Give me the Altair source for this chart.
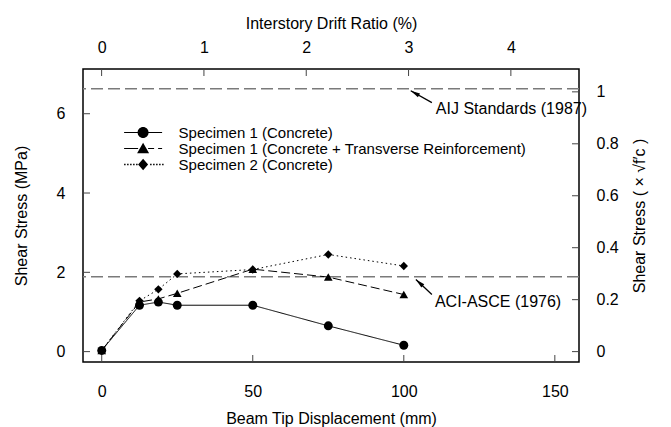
import altair as alt
import pandas as pd

# ---------------- data ----------------
disp = [0, 12.5, 18.75, 25, 50, 75, 100]
s1_concrete = [0.03, 1.17, 1.25, 1.17, 1.17, 0.65, 0.16]
s1_transverse = [0.03, 1.25, 1.33, 1.47, 2.08, 1.88, 1.44]
s2_concrete = [0.03, 1.28, 1.57, 1.96, 2.07, 2.45, 2.16]
series = [
    "Specimen 1 (Concrete)",
    "Specimen 1 (Concrete + Transverse Reinforcement)",
    "Specimen 2 (Concrete)",
]

x_ticks = [0, 50, 100, 150]
y_ticks = [0, 2, 4, 6]
drift_ticks = [0, 1, 2, 3, 4]
norm_ticks = [0, 0.2, 0.4, 0.6, 0.8, 1]

ref_names = ["AIJ Standards (1987)", "ACI-ASCE (1976)"]
ref_values = [6.63, 1.89]
ref_text_x = [110.6, 110.3]
ref_text_y = [6.12, 1.25]
arrow_tip_x = [102.3, 104.0]
arrow_tip_y = [6.58, 1.82]
arrow_tail_x = [109.3, 109.3]
arrow_tail_y = [6.28, 1.44]
arrow_angle = [300, 313]

# ---------------- layout / style ----------------
X_DOMAIN = [-6.2, 158.0]
Y_DOMAIN = [-0.262, 7.128]
DRIFT_DOMAIN = [-0.182, 4.666]
NORM_DOMAIN = [-0.04, 1.088]
W, H = 496, 293
FONT = "Liberation Sans"
TICK = 7

rows = []
for name, vals in zip(series, [s1_concrete, s1_transverse, s2_concrete]):
    for d, v in zip(disp, vals):
        rows.append({"series": name, "disp": d, "stress": v})
df = pd.DataFrame(rows)

refs = pd.DataFrame({
    "name": ref_names, "value": ref_values,
    "tx": ref_text_x, "ty": ref_text_y,
    "hx": arrow_tip_x, "hy": arrow_tip_y,
    "ax": arrow_tail_x, "ay": arrow_tail_y,
    "angle": arrow_angle,
})

xs = alt.Scale(domain=X_DOMAIN, nice=False, zero=False)
ys = alt.Scale(domain=Y_DOMAIN, nice=False, zero=False)
ds = alt.Scale(domain=DRIFT_DOMAIN, nice=False, zero=False)
ns = alt.Scale(domain=NORM_DOMAIN, nice=False, zero=False)

xaxis = alt.Axis(title="Beam Tip Displacement (mm)", values=x_ticks, orient="bottom",
                 labelPadding=21, titlePadding=11)
yaxis = alt.Axis(title="Shear Stress (MPa)", values=y_ticks, orient="left",
                 labelPadding=18, titlePadding=27)
topaxis = alt.Axis(title="Interstory Drift Ratio (%)", values=drift_ticks, orient="top",
                   labelPadding=14, titlePadding=8)
rightaxis = alt.Axis(title="Shear Stress ( × √f′c )", values=norm_ticks, orient="right",
                     format="~g", labelPadding=17, titlePadding=13, titleAngle=270,
                     titleBaseline="top")

dashes = [[1, 0], [9, 4], [1.5, 3]]

lines = alt.Chart(df).mark_line(color="black", strokeWidth=1).encode(
    x=alt.X("disp:Q", scale=xs, axis=xaxis),
    y=alt.Y("stress:Q", scale=ys, axis=yaxis),
    strokeDash=alt.StrokeDash("series:N", scale=alt.Scale(domain=series, range=dashes), legend=None),
)

points = alt.Chart(df).mark_point(filled=True, color="black", opacity=1).encode(
    x=alt.X("disp:Q", scale=xs, axis=xaxis),
    y=alt.Y("stress:Q", scale=ys, axis=yaxis),
    shape=alt.Shape("series:N", scale=alt.Scale(domain=series, range=["circle", "triangle-up", "diamond"]), legend=None),
    size=alt.Size("series:N", scale=alt.Scale(domain=series, range=[80, 70, 58]), legend=None),
)

ref_lines = alt.Chart(refs).mark_rule(color="#7a7a7a", strokeDash=[12, 5], strokeWidth=1.5).encode(
    y=alt.Y("value:Q", scale=ys, axis=yaxis),
)

arrows = alt.Chart(refs).mark_rule(color="black", strokeWidth=1.3).encode(
    x=alt.X("ax:Q", scale=xs, axis=xaxis), y=alt.Y("ay:Q", scale=ys, axis=yaxis),
    x2="hx:Q", y2="hy:Q",
)
heads = alt.Chart(refs).mark_point(shape="M0,0L0.45,2L-0.45,2Z", filled=True, color="black",
                                   opacity=1, size=90).encode(
    x=alt.X("hx:Q", scale=xs, axis=xaxis), y=alt.Y("hy:Q", scale=ys, axis=yaxis),
    angle=alt.Angle("angle:Q", scale=None),
)
labels = alt.Chart(refs).mark_text(align="left", baseline="middle", font=FONT, fontSize=16,
                                   color="black").encode(
    x=alt.X("tx:Q", scale=xs, axis=xaxis), y=alt.Y("ty:Q", scale=ys, axis=yaxis), text="name:N",
)

left_ticks = alt.Chart(pd.DataFrame({"v": y_ticks})).mark_rule(color="#444444", strokeWidth=1).encode(
    y=alt.Y("v:Q", scale=ys, axis=yaxis), x=alt.value(0), x2=alt.value(TICK))
bottom_ticks = alt.Chart(pd.DataFrame({"v": x_ticks})).mark_rule(color="#444444", strokeWidth=1).encode(
    x=alt.X("v:Q", scale=xs, axis=xaxis), y=alt.value(H), y2=alt.value(H - TICK))


# legend symbols: line sample (drawn as filled slivers) + marker, in symbol units (1 unit = 5 px)
def seg(a, b, h=0.1):
    return f"M{a:.2f},{-h:.2f}H{b:.2f}V{h:.2f}H{a:.2f}Z"


def segs(spans, h=0.1):
    return "".join(seg(a, b, h) for a, b in spans)


circle_m = "M1.1,0A1.1,1.1,0,1,1,-1.1,0A1.1,1.1,0,1,1,1.1,0Z"
tri_m = "M0,-1.15L1.2,0.95L-1.2,0.95Z"
dia_m = "M0,-1.15L1,0L0,1.15L-1,0Z"
dots = [(-3.8 + 0.6 * i, -3.8 + 0.6 * i + 0.3) for i in range(5)] + \
       [(1.4 + 0.6 * i, 1.4 + 0.6 * i + 0.3) for i in range(5)]
legend_paths = [
    segs([(-3.8, 3.8)]) + circle_m,
    segs([(-3.8, -1.0), (1.0, 2.2), (3.0, 3.8)]) + tri_m,
    segs(dots, 0.13) + dia_m,
]
leg = alt.Legend(title=None, orient="none", legendX=52.6, legendY=56,
                 labelFont=FONT, labelFontSize=15, labelColor="black", labelLimit=0,
                 symbolSize=100, symbolStrokeWidth=0, symbolFillColor="black",
                 symbolOpacity=1, labelOffset=28, rowPadding=-2.5)
legend_layer = alt.Chart(df).transform_filter("false").mark_point(
    filled=True, color="black", opacity=1).encode(
    shape=alt.Shape("series:N", scale=alt.Scale(domain=series, range=legend_paths), legend=leg),
)

main = alt.layer(ref_lines, left_ticks, bottom_ticks, lines, points, arrows, heads, labels,
                 legend_layer).resolve_scale(shape="independent", strokeDash="independent",
                                             size="independent")

top_ticks = alt.Chart(pd.DataFrame({"d": drift_ticks})).mark_rule(color="#444444", strokeWidth=1).encode(
    x=alt.X("d:Q", scale=ds, axis=topaxis), y=alt.value(0), y2=alt.value(TICK))
right_ticks = alt.Chart(pd.DataFrame({"n": norm_ticks})).mark_rule(color="#444444", strokeWidth=1).encode(
    y=alt.Y("n:Q", scale=ns, axis=rightaxis), x=alt.value(W - TICK), x2=alt.value(W))
secondary = alt.layer(top_ticks, right_ticks)

chart = alt.layer(main, secondary).resolve_scale(x="independent", y="independent").properties(
    width=W, height=H,
    autosize=alt.AutoSizeParams(type="none"),
    padding={"left": 83, "top": 69, "right": 92, "bottom": 65},
    background="white",
).configure_view(stroke="black", strokeWidth=1.5).configure_axis(
    labelFont=FONT, titleFont=FONT, labelFontSize=16, titleFontSize=16,
    labelColor="black", titleColor="black", titleFontWeight="normal",
    ticks=False, tickSize=0, domain=False, grid=False,
)

chart.save("out.html", embed_options={"renderer": "svg", "actions": False})
